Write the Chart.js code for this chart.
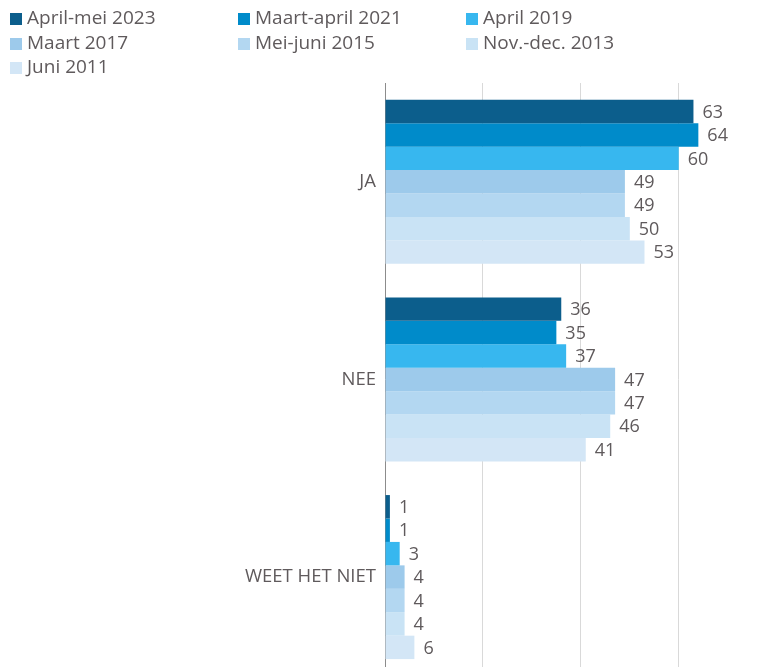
<!DOCTYPE html>
<html>
<head>
<meta charset="utf-8">
<script src="https://cdn.jsdelivr.net/npm/chart.js@4"></script>
<style>
  html, body { margin: 0; padding: 0; background: #fff; }
  #wrap { position: relative; width: 766px; height: 667px; overflow: hidden; }
  #legend { position: absolute; left: 10px; top: 5px; width: 760px; font-family: "Open Sans", sans-serif; font-size: 19px; color: #5f5a5c; }
  .item { position: absolute; white-space: nowrap; line-height: 25px; }
  .box { display: inline-block; width: 12px; height: 12px; margin-right: 5px; vertical-align: -1px; }
</style>
</head>
<body>
<div id="wrap">
  <canvas id="survey_chart" width="766" height="696"></canvas>
  <div id="legend"></div>
</div>
<script>
const categories = ['JA', 'NEE', 'WEET HET NIET']
const series_names = ['April-mei 2023', 'Maart-april 2021', 'April 2019', 'Maart 2017', 'Mei-juni 2015', 'Nov.-dec. 2013', 'Juni 2011']
const values_2023 = [63, 36, 1]
const values_2021 = [64, 35, 1]
const values_2019 = [60, 37, 3]
const values_2017 = [49, 47, 4]
const values_2015 = [49, 47, 4]
const values_2013 = [50, 46, 4]
const values_2011 = [53, 41, 6]
const series_colors = ['#0c5e8c', '#008bca', '#37b7ef', '#9dcaeb', '#b3d7f1', '#c9e3f5', '#d3e6f6']

const all_values = [values_2023, values_2021, values_2019, values_2017, values_2015, values_2013, values_2011]
const text_color = '#5f5a5c'

// html legend, three columns like the original
const legend = document.getElementById('legend')
series_names.forEach((name, i) => {
    const el = document.createElement('div')
    el.className = 'item'
    el.style.left = (i % 3) * 228 + 'px'
    el.style.top = Math.floor(i / 3) * 24.5 + 'px'
    el.innerHTML = `<span class="box" style="background:${series_colors[i]}"></span>${name}`
    legend.appendChild(el)
})

// draws the value to the right of every bar
const value_labels = {
    id: 'value_labels',
    afterDatasetsDraw(chart) {
        const c = chart.ctx
        c.save()
        c.font = '18px "Open Sans", sans-serif'
        c.fillStyle = text_color
        c.textBaseline = 'middle'
        c.textAlign = 'left'
        chart.data.datasets.forEach((ds, i) => {
            chart.getDatasetMeta(i).data.forEach((bar, j) => {
                c.fillText(ds.data[j], bar.x + 9, bar.y + 1)
            })
        })
        c.restore()
    }
}

const ctx = document.getElementById('survey_chart').getContext('2d')
const survey_chart = new Chart(ctx, {
    type: 'bar',
    data: {
        labels: categories,
        datasets: all_values.map((vals, i) => ({
            label: series_names[i],
            data: vals,
            backgroundColor: series_colors[i],
            borderWidth: 0,
            categoryPercentage: 0.83,
            barPercentage: 1.0
        }))
    },
    options: {
        indexAxis: 'y',
        responsive: false,
        animation: false,
        layout: { padding: { top: 83, bottom: 0, right: 4, left: 0 } },
        plugins: {
            legend: { display: false },
            tooltip: { enabled: false }
        },
        scales: {
            x: {
                min: 0,
                max: 77,
                ticks: { display: false, stepSize: 20 },
                grid: {
                    drawTicks: false,
                    color: c => (c.tick && c.tick.value > 0 && c.tick.value % 20 === 0) ? '#d9d9d9' : 'rgba(0,0,0,0)'
                },
                border: { display: false },
                afterFit: scale => { scale.height = 0 }
            },
            y: {
                grid: { display: false, drawTicks: false },
                border: { display: true, color: '#8c8c8c', width: 1 },
                ticks: {
                    color: text_color,
                    font: { family: '"Open Sans", sans-serif', size: 18.5 },
                    padding: 9
                },
                afterFit: scale => { scale.width = 385 }
            }
        }
    },
    plugins: [value_labels]
})
</script>
</body>
</html>
